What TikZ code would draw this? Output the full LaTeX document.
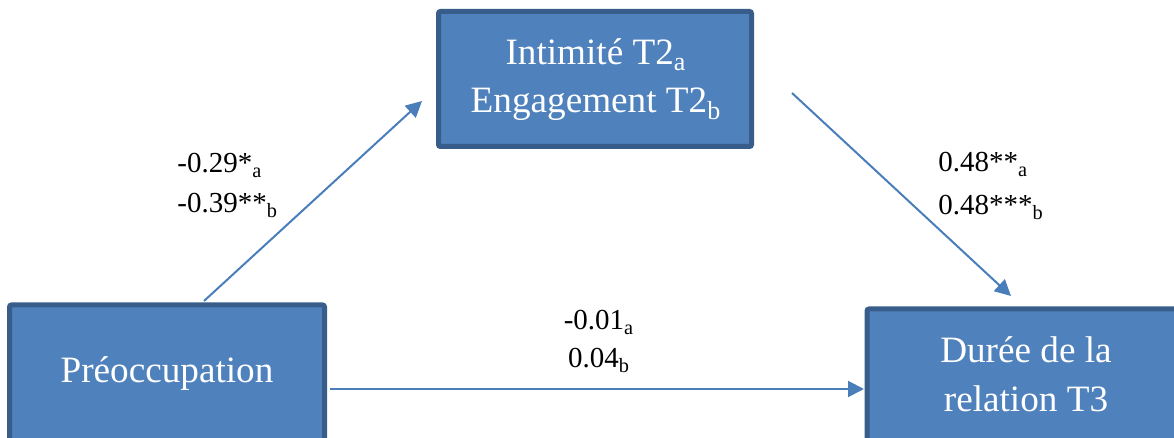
\documentclass[tikz,border=0pt]{standalone}
\usepackage{fontspec}
\setmainfont{Liberation Serif}
\usetikzlibrary{arrows.meta}
\definecolor{boxfill}{RGB}{79,129,189}
\definecolor{boxline}{RGB}{56,93,138}
\definecolor{arrowcol}{RGB}{74,126,187}
\tikzset{
  varbox/.style={draw=boxline, fill=boxfill, line width=2.5pt, rounded corners=1pt, inner sep=0pt},
  boxtext/.style={text=white, font=\fontsize{18.6pt}{22pt}\selectfont, inner sep=0pt, anchor=base},
  coef/.style={font=\fontsize{14.5pt}{17pt}\selectfont, inner sep=0pt, anchor=base west},
  coefc/.style={font=\fontsize{14.5pt}{17pt}\selectfont, inner sep=0pt, anchor=base},
  path arrow/.style={draw=arrowcol, line width=1pt, -{Triangle[length=8pt,width=8pt]}}
}
\newcommand{\sbs}[1]{\textsubscript{#1}}
\begin{document}
\begin{tikzpicture}[x=0.5pt,y=-0.5pt]
\useasboundingbox (0,0) rectangle (1174,438);
% boxes
\node[varbox, minimum width=156.5pt, minimum height=67.5pt] (med) at (595,79) {};
\node[varbox, minimum width=157.5pt, minimum height=72pt] (pre) at (167,377) {};
\node[varbox, minimum width=159pt, minimum height=70pt] (dur) at (1026,379) {};
% box texts
\node[boxtext] (medA) at (596,65) {Intimité T2\sbs{a}};
\node[boxtext] (medB) at (596,113) {Engagement T2\sbs{b}};
\node[boxtext] (preT) at (167,383) {Préoccupation};
\node[boxtext] (durA) at (1026,363) {Durée de la};
\node[boxtext] (durB) at (1026,412) {relation T3};
% connector ends
\coordinate (a1s) at (204,301);
\coordinate (a1e) at (422,101);
\coordinate (a2s) at (792,93);
\coordinate (a2e) at (1011,296);
\coordinate (a3s) at (330,389);
\coordinate (a3e) at (864,389);
\draw[path arrow] (a1s) -- (a1e);
\draw[path arrow] (a2s) -- (a2e);
\draw[path arrow] (a3s) -- (a3e);
% coefficients
\node[coef] (c1a) at (177,173) {-0.29*\sbs{a}};
\node[coef] (c1b) at (177,213) {-0.39**\sbs{b}};
\node[coef] (c2a) at (938,172) {0.48**\sbs{a}};
\node[coef] (c2b) at (938,215) {0.48***\sbs{b}};
\node[coefc] (c3a) at (599,330) {-0.01\sbs{a}};
\node[coefc] (c3b) at (599,368) {0.04\sbs{b}};
\end{tikzpicture}
\end{document}
